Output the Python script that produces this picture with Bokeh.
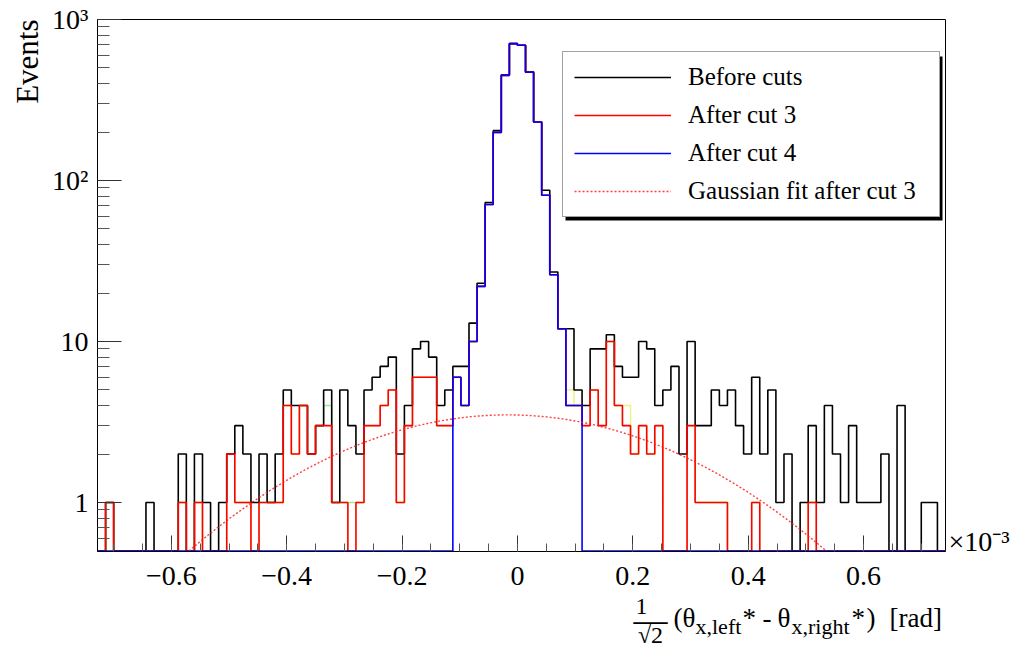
import numpy as np
from bokeh.plotting import figure
from bokeh.layouts import column
from bokeh.models import (Range1d, FixedTicker, Label, Legend, LegendItem, BoxAnnotation,
                          LogAxis, Title)
from bokeh.embed import file_html
from bokeh.resources import INLINE

# ---------------- data ----------------
bin_width = 0.014          # x 10^-3 rad
x_low = -0.728
n_bins = 105

before_cuts = [0, 1, 0, 0, 0, 0, 1, 0, 0, 0,
               2, 0, 2, 1, 0, 1, 2, 3, 2, 1,
               2, 1, 2, 5, 4, 4, 2, 3, 5, 1,
               5, 3, 2, 5, 6, 7, 8, 2, 4, 9,
               10, 8, 4, 5, 7, 7, 13, 23, 73, 204,
               453, 708, 692, 473, 231, 87, 27, 12, 12, 5,
               4, 9, 9, 11, 7, 6, 6, 10, 9, 4,
               5, 7, 2, 10, 3, 3, 5, 4, 5, 3,
               2, 6, 2, 5, 1, 2, 0, 1, 3, 1,
               4, 2, 1, 3, 1, 1, 1, 2, 0, 4,
               0, 0, 1, 1, 0]

after_cut3 = [0, 1, 0, 0, 0, 0, 0, 0, 0, 0,
              1, 0, 1, 0, 0, 0, 2, 1, 1, 0,
              1, 1, 1, 4, 2, 4, 2, 3, 3, 1,
              1, 0, 1, 3, 3, 4, 5, 1, 3, 6,
              6, 6, 3, 3, 6, 4, 10, 22, 71, 199,
              450, 708, 692, 470, 231, 81, 26, 12, 4, 4,
              3, 5, 3, 10, 4, 3, 2, 3, 2, 3,
              0, 0, 0, 3, 1, 1, 1, 1, 0, 0,
              0, 1, 0, 0, 0, 0, 0, 0, 1, 0,
              0, 0, 0, 0, 0, 0, 0, 0, 0, 0,
              0, 0, 0, 0, 0]

after_cut4 = [0, 0, 0, 0, 0, 0, 0, 0, 0, 0,
              0, 0, 0, 0, 0, 0, 0, 0, 0, 0,
              0, 0, 0, 0, 0, 0, 0, 0, 0, 0,
              0, 0, 0, 0, 0, 0, 0, 0, 0, 0,
              0, 0, 0, 0, 6, 4, 10, 22, 71, 199,
              450, 708, 692, 470, 231, 81, 26, 12, 4, 4,
              0, 0, 0, 0, 0, 0, 0, 0, 0, 0,
              0, 0, 0, 0, 0, 0, 0, 0, 0, 0,
              0, 0, 0, 0, 0, 0, 0, 0, 0, 0,
              0, 0, 0, 0, 0, 0, 0, 0, 0, 0,
              0, 0, 0, 0, 0]

# faint intermediate-cut histograms (mostly hidden below the others)
extra_green = [0, 1, 0, 0, 0, 0, 0, 0, 0, 0,
               1, 0, 1, 0, 0, 0, 2, 1, 1, 0,
               1, 1, 1, 4, 2, 4, 2, 3, 4, 1,
               1, 1, 1, 3, 3, 4, 5, 1, 3, 6,
               6, 6, 3, 3, 6, 4, 10, 22, 71, 199,
               450, 708, 692, 470, 231, 81, 26, 12, 4, 4,
               3, 5, 3, 10, 4, 3, 2, 3, 2, 3,
               0, 0, 0, 3, 1, 1, 1, 1, 0, 0,
               0, 1, 0, 0, 0, 0, 0, 0, 1, 0,
               0, 0, 0, 0, 0, 0, 0, 0, 0, 0,
               0, 0, 0, 0, 0]

extra_yellow = [0, 1, 0, 0, 0, 0, 0, 0, 0, 0,
                1, 0, 1, 0, 0, 0, 2, 1, 1, 0,
                1, 1, 1, 4, 2, 4, 2, 3, 3, 1,
                1, 0, 1, 3, 3, 4, 5, 1, 3, 6,
                6, 6, 3, 3, 6, 4, 10, 22, 71, 199,
                450, 708, 692, 470, 231, 81, 26, 12, 5, 4,
                3, 5, 3, 10, 4, 4, 2, 3, 2, 3,
                0, 0, 0, 3, 1, 1, 1, 1, 0, 0,
                0, 1, 0, 0, 0, 0, 0, 0, 1, 0,
                0, 0, 0, 0, 0, 0, 0, 0, 0, 0,
                0, 0, 0, 0, 0]

fit_amp = 3.5
fit_mean = -0.017
fit_sigma = 0.28

x_ticks = [-0.6, -0.4, -0.2, 0.0, 0.2, 0.4, 0.6]
x_tick_labels = ["\u22120.6", "\u22120.4", "\u22120.2", "0", "0.2", "0.4", "0.6"]
y_ticks = [1, 10, 100, 1000]
y_tick_labels = ["1", "10", "10\u00b2", "10\u00b3"]
legend_labels = ["Before cuts", "After cut 3", "After cut 4", "Gaussian fit after cut 3"]
y_title = "Events"
x_multiplier = "\u00d710\u207b\u00b3"
x_multiplier_at = 0.57     # y value where the multiplier text sits (just above the x axis)

# ---------------- layout constants (page px) ----------------
FONT = "Liberation Serif"
BORDER_L, BORDER_R, BORDER_T, BORDER_B = 97, 75, 19, 96
FRAME_W, FRAME_H = 848, 532
TOTAL_W = BORDER_L + FRAME_W + BORDER_R      # 1020
TOTAL_H = BORDER_T + FRAME_H + BORDER_B      # 647

x_high = x_low + n_bins * bin_width
y_floor = 0.5
edges = x_low + bin_width * np.arange(n_bins + 1)

# ---------------- main plot ----------------
p = figure(frame_width=FRAME_W, frame_height=FRAME_H,
           x_range=Range1d(x_low, x_high), y_range=Range1d(0.496, 1000),
           y_axis_type="log", output_backend="svg", toolbar_location=None,
           min_border_left=BORDER_L, min_border_right=BORDER_R,
           min_border_top=BORDER_T, min_border_bottom=BORDER_B,
           background_fill_color="white", border_fill_color="white")
p.grid.visible = False
p.outline_line_color = "black"
p.outline_line_width = 1

p.xaxis.ticker = FixedTicker(ticks=x_ticks,
                             minor_ticks=[round(v, 2) for v in np.arange(-0.70, 0.7001, 0.05)])
p.xaxis.major_label_overrides = dict(zip(x_ticks, x_tick_labels))
p.xaxis.major_tick_in = 16
p.xaxis.major_tick_out = 0
p.xaxis.minor_tick_in = 8
p.xaxis.minor_tick_out = 0
p.xaxis.major_label_standoff = 15

minor_y = [0.6, 0.7, 0.8, 0.9] + [m * d for d in (1, 10, 100) for m in range(2, 10)]
p.yaxis.ticker = FixedTicker(ticks=y_ticks, minor_ticks=minor_y)
p.yaxis.major_label_overrides = dict(zip(y_ticks, y_tick_labels))
p.yaxis.major_tick_in = 24
p.yaxis.major_tick_out = 0
p.yaxis.minor_tick_in = 12
p.yaxis.minor_tick_out = 0
p.yaxis.major_label_standoff = 9

for ax in (p.xaxis, p.yaxis):
    ax.axis_line_color = "black"
    ax.major_tick_line_color = "#333333"
    ax.minor_tick_line_color = "#555555"
    ax.major_label_text_font = FONT
    ax.major_label_text_font_size = "28px"
    ax.major_label_text_color = "black"

# x10^-3 multiplier, carried by a bare axis on the right
mult_axis = LogAxis(ticker=FixedTicker(ticks=[x_multiplier_at]),
                    major_label_overrides={x_multiplier_at: x_multiplier},
                    axis_line_color=None, major_tick_line_color=None,
                    minor_tick_line_color=None, major_tick_in=0, major_tick_out=0,
                    major_label_standoff=3, major_label_text_font=FONT,
                    major_label_text_font_size="28px", major_label_text_color="black")
p.add_layout(mult_axis, "right")

# y title at the top end of the y axis
p.add_layout(Title(text=y_title, align="right", text_font=FONT, text_font_size="31px",
                   text_font_style="normal", text_color="black", standoff=10), "left")


def step_xy(counts):
    c = np.maximum(np.asarray(counts, dtype=float), y_floor)
    return np.repeat(edges, 2)[1:-1], np.repeat(c, 2)


gx, gy = step_xy(extra_green)
p.line(gx, gy, line_color="#9be89b", line_width=1.4)
yx, yy = step_xy(extra_yellow)
p.line(yx, yy, line_color="#f0f07a", line_width=1.4)

bx, by = step_xy(before_cuts)
r_black = p.line(bx, by, line_color="black", line_width=1.6)
rx, ry = step_xy(after_cut3)
r_red = p.line(rx, ry, line_color="#ff0000", line_width=1.6)
ux, uy = step_xy(after_cut4)
r_blue = p.line(ux, uy, line_color="#0000ff", line_width=1.6)

fx = np.linspace(x_low, x_high, 800)
fy = fit_amp * np.exp(-0.5 * ((fx - fit_mean) / fit_sigma) ** 2)
r_fit = p.line(fx, fy, line_color="#ff2020", line_width=1.4, line_dash="2 2", line_alpha=0.85)

# legend shadow + legend (screen units relative to the frame's bottom-left)
shadow = BoxAnnotation(left=468, right=845, top=495, bottom=331,
                       left_units="screen", right_units="screen",
                       top_units="screen", bottom_units="screen",
                       fill_color="black", fill_alpha=1.0, line_color=None)
p.add_layout(shadow)

legend = Legend(items=[LegendItem(label=legend_labels[0], renderers=[r_black]),
                       LegendItem(label=legend_labels[1], renderers=[r_red]),
                       LegendItem(label=legend_labels[2], renderers=[r_blue]),
                       LegendItem(label=legend_labels[3], renderers=[r_fit])],
                location=(465, 334), orientation="vertical",
                padding=11, spacing=10, margin=0,
                label_height=28, glyph_height=28, glyph_width=97,
                label_standoff=17, label_width=240,
                label_text_font=FONT, label_text_font_size="25px",
                label_text_color="black",
                border_line_color="#444444", border_line_width=1,
                background_fill_color="white", background_fill_alpha=1.0)
p.add_layout(legend)

# ---------------- transparent text layer for the x title ----------------
# (its frame is aligned with the main frame horizontally by the column layout)
ov = figure(width=TOTAL_W, height=TOTAL_H, x_range=Range1d(0, 1), y_range=Range1d(0, 1),
            x_axis_type=None, y_axis_type=None, output_backend="svg",
            toolbar_location=None, min_border=0,
            background_fill_alpha=0.0, border_fill_alpha=0.0)
ov.outline_line_color = None
ov.grid.visible = False
ov.margin = (-TOTAL_H, 0, 0, 0)

V_SHIFT = 7


def add_text(txt, page_x, page_y, size, align="left"):
    ov.add_layout(Label(x=page_x - BORDER_L, y=TOTAL_H - (page_y - V_SHIFT),
                        x_units="screen", y_units="screen",
                        text=txt, text_font=FONT, text_font_size=f"{size}px",
                        text_align=align, text_baseline="alphabetic", text_color="black"))


# 1/sqrt(2) (theta_{x,left}* - theta_{x,right}*) [rad]
add_text("1", 641, 613, 24, align="center")
add_text("\u2014", 650, 626, 34, align="center")
add_text("\u221a2", 650, 641, 24, align="center")
add_text("(\u03b8", 673, 624, 27)
add_text("x,left", 695, 633, 22)
add_text("*", 742, 624, 27)
add_text("-", 762, 624, 27)
add_text("\u03b8", 777, 624, 27)
add_text("x,right", 791, 633, 22)
add_text("*", 851, 624, 27)
add_text(")", 866, 624, 27)
add_text("[rad]", 889, 624, 27)

layout = column(p, ov, spacing=0)

open("out.html", "w").write(file_html(layout, INLINE))
